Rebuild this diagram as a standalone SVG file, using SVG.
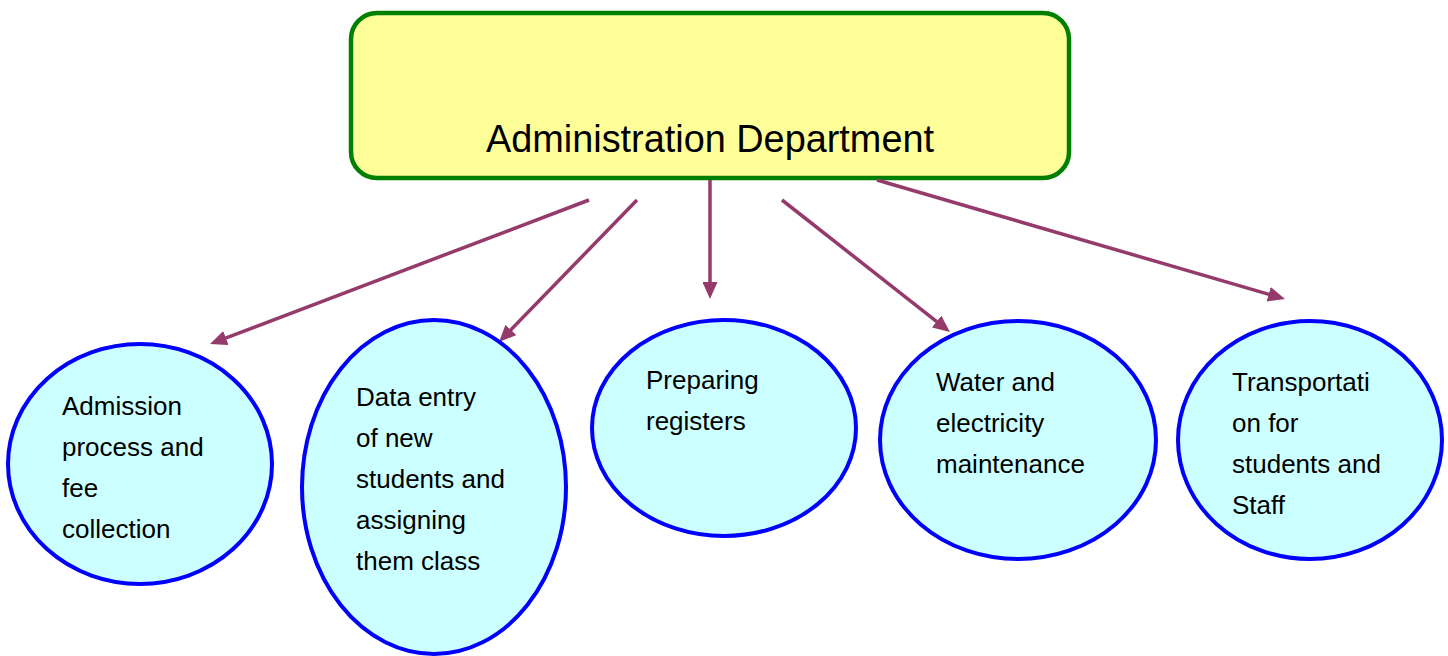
<svg xmlns="http://www.w3.org/2000/svg" width="1448" height="656" viewBox="0 0 1448 656">
<style>
.t{font-family:"Liberation Sans",Arial,sans-serif;font-size:26px;fill:#000}
.title{font-family:"Liberation Sans",Arial,sans-serif;font-size:38px;fill:#000}
.e{fill:#CCFFFF;stroke:#0000FF;stroke-width:4}
.c{stroke:#953B6B;stroke-width:3.5;fill:none;marker-end:url(#ah)}
</style>
<defs>
<marker id="ah" markerUnits="userSpaceOnUse" markerWidth="17" markerHeight="15" refX="9" refY="7.5" orient="auto" viewBox="0 0 17 15">
<path d="M0,0 L17,7.5 L0,15 z" fill="#953B6B"/>
</marker>
</defs>
<rect width="1448" height="656" fill="#FFFFFF"/>
<g id="admin">
<rect x="351" y="13" width="718" height="165" rx="26" ry="26" fill="#FFFF99" stroke="#008000" stroke-width="4.5"/>
<text class="title" x="486" y="152" textLength="448" lengthAdjust="spacingAndGlyphs">Administration Department</text>
</g>
<g id="connectors">
<line class="c" x1="589" y1="200" x2="217.5" y2="341.2"/>
<line class="c" x1="637" y1="200" x2="504.6" y2="336.3"/>
<line class="c" x1="710" y1="180" x2="710" y2="291"/>
<line class="c" x1="782" y1="200" x2="943.7" y2="327.1"/>
<line class="c" x1="877" y1="180" x2="1277.3" y2="296.8"/>
</g>
<g id="admission">
<ellipse class="e" cx="140" cy="464" rx="132" ry="120"/>
<text class="t" x="62" y="415">Admission</text>
<text class="t" x="62" y="456">process and</text>
<text class="t" x="62" y="497">fee</text>
<text class="t" x="62" y="538">collection</text>
</g>
<g id="dataentry">
<ellipse class="e" cx="434" cy="487" rx="132" ry="167"/>
<text class="t" x="356" y="406">Data entry</text>
<text class="t" x="356" y="447">of new</text>
<text class="t" x="356" y="488">students and</text>
<text class="t" x="356" y="529">assigning</text>
<text class="t" x="356" y="570">them class</text>
</g>
<g id="registers">
<ellipse class="e" cx="724" cy="428" rx="132" ry="108"/>
<text class="t" x="646" y="389">Preparing</text>
<text class="t" x="646" y="430">registers</text>
</g>
<g id="water">
<ellipse class="e" cx="1018" cy="440" rx="138" ry="119"/>
<text class="t" x="936" y="391">Water and</text>
<text class="t" x="936" y="432">electricity</text>
<text class="t" x="936" y="473">maintenance</text>
</g>
<g id="transport">
<ellipse class="e" cx="1310" cy="440" rx="132" ry="119"/>
<text class="t" x="1232" y="391">Transportati</text>
<text class="t" x="1232" y="432">on for</text>
<text class="t" x="1232" y="473">students and</text>
<text class="t" x="1232" y="514">Staff</text>
</g>
</svg>
